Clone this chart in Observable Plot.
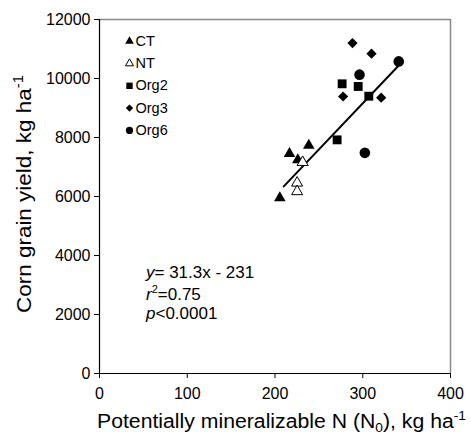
<!DOCTYPE html>
<html><head><meta charset="utf-8">
<script src="https://cdn.jsdelivr.net/npm/d3@7"></script>
<script src="https://cdn.jsdelivr.net/npm/@observablehq/plot@0.6"></script>
<style>
body{margin:0;background:#fff}
svg{font-family:"Liberation Sans",Arial,Helvetica,sans-serif}
</style>
</head><body><div id="chart"></div>
<script>
// ---- data ----
const xTicks = [0, 100, 200, 300, 400];
const yTicks = [0, 2000, 4000, 6000, 8000, 10000, 12000];
const legendLabels = ["CT", "NT", "Org2", "Org3", "Org6"];

const ctN   = [205.5, 216.5, 226, 238.5];
const ctY   = [5950, 7450, 7240, 7730];
const ntN   = [231.5, 225.2, 225.2];
const ntY   = [7160, 6460, 6170];
const org2N = [276.5, 294.8, 306.9, 270.8];
const org2Y = [9820, 9730, 9400, 7920];
const org3N = [288.3, 310, 277.6, 321];
const org3Y = [11200, 10840, 9390, 9350];
const org6N = [341, 296.3, 302.4];
const org6Y = [10580, 10130, 7480];

const slope = 31.3, intercept = -231;
const fitRange = [210, 341];
const eqText = "31.3x - 231";
const r2Text = "=0.75";
const pText = "<0.0001";

// ---- build tables ----
const pts = (xs, ys) => xs.map((x, i) => ({x, y: ys[i]}));
const fit = fitRange.map(x => ({x, y: slope * x + intercept}));

const series = [
  {data: pts(ctN, ctY),     symbol: "triangle", r: 4.3, fill: "#000", stroke: "none", lr: 3.2},
  {data: pts(ntN, ntY),     symbol: "triangle", r: 4.1, fill: "#fff", stroke: "#000", lr: 3.0},
  {data: pts(org2N, org2Y), symbol: "square",   r: 5.0, fill: "#000", stroke: "none", lr: 3.6},
  {data: pts(org3N, org3Y), symbol: "diamond2", r: 4.6, fill: "#000", stroke: "none", lr: 3.3},
  {data: pts(org6N, org6Y), symbol: "circle",   r: 5.3, fill: "#000", stroke: "none", lr: 3.6}
];

const marks = [
  Plot.axisX({ticks: xTicks, tickSize: 5, tickPadding: 9, label: null, fontSize: 16}),
  Plot.axisY({ticks: yTicks, tickSize: 5, tickPadding: 4, label: null, fontSize: 16, tickFormat: d3.format("d")}),
  Plot.ruleY([12000], {stroke: "#888", strokeWidth: 1.5}),
  Plot.ruleX([400], {stroke: "#888", strokeWidth: 1.5}),
  Plot.ruleY([0], {stroke: "#000", strokeWidth: 1.2}),
  Plot.ruleX([0], {stroke: "#000", strokeWidth: 1.2}),
  Plot.line(fit, {x: "x", y: "y", stroke: "#000", strokeWidth: 2})
];
series.forEach(s => {
  marks.push(Plot.dot(s.data, {x: "x", y: "y", symbol: s.symbol, r: s.r, fill: s.fill, stroke: s.stroke, strokeWidth: 1}));
});
legendLabels.forEach((lab, i) => {
  const s = series[i];
  marks.push(Plot.dot([lab], {frameAnchor: "top-left", dx: 30, dy: 21.7 + i * 22.3, symbol: s.symbol, r: s.lr, fill: s.fill, stroke: s.stroke, strokeWidth: 1}));
  marks.push(Plot.text([lab], {frameAnchor: "top-left", dx: 36, dy: 21.7 + i * 22.3, text: d => d, textAnchor: "start", lineAnchor: "middle", fontSize: 14.5, fill: "#000"}));
});

const plot = Plot.plot({
  width: 471, height: 435,
  marginLeft: 99, marginRight: 21, marginTop: 19, marginBottom: 62,
  style: {fontFamily: '"Liberation Sans", Arial, sans-serif', background: "#fff", color: "#000", overflow: "visible"},
  x: {domain: [0, 400]},
  y: {domain: [0, 12000]},
  marks
});
document.getElementById("chart").appendChild(plot);

// ---- titles and annotation with italic / super- and subscripts ----
const svg = d3.select(plot);
const xt = svg.append("text").attr("x", 97).attr("y", 428).attr("font-size", 20).attr("fill", "#000")
  .attr("text-anchor", "start").attr("textLength", 369).attr("lengthAdjust", "spacingAndGlyphs");
xt.append("tspan").text("Potentially mineralizable N (N");
xt.append("tspan").attr("font-size", 13).attr("dy", 4).text("0");
xt.append("tspan").attr("dy", -4).text("), kg ha");
xt.append("tspan").attr("font-size", 13).attr("dy", -8).text("-1");

const yt = svg.append("text").attr("transform", "translate(31,194) rotate(-90)").attr("text-anchor", "middle")
  .attr("font-size", 21).attr("fill", "#000").attr("textLength", 238).attr("lengthAdjust", "spacingAndGlyphs");
yt.append("tspan").text("Corn grain yield, kg ha");
yt.append("tspan").attr("font-size", 14).attr("dy", -8).text("-1");

const ax = 146;
const ann = [
  {y: 277.5, it: "y", rest: "= " + eqText},
  {y: 300, it: "r", sup: "2", rest: r2Text},
  {y: 319, it: "p", rest: pText}
];
ann.forEach(a => {
  const t = svg.append("text").attr("x", ax).attr("y", a.y).attr("font-size", 17).attr("fill", "#000").attr("text-anchor", "start");
  t.append("tspan").attr("font-style", "italic").text(a.it);
  if (a.sup) {
    t.append("tspan").attr("font-size", 11).attr("dy", -7).text(a.sup);
    t.append("tspan").attr("dy", 7).text(a.rest);
  } else {
    t.append("tspan").text(a.rest);
  }
});
</script>
</body></html>
